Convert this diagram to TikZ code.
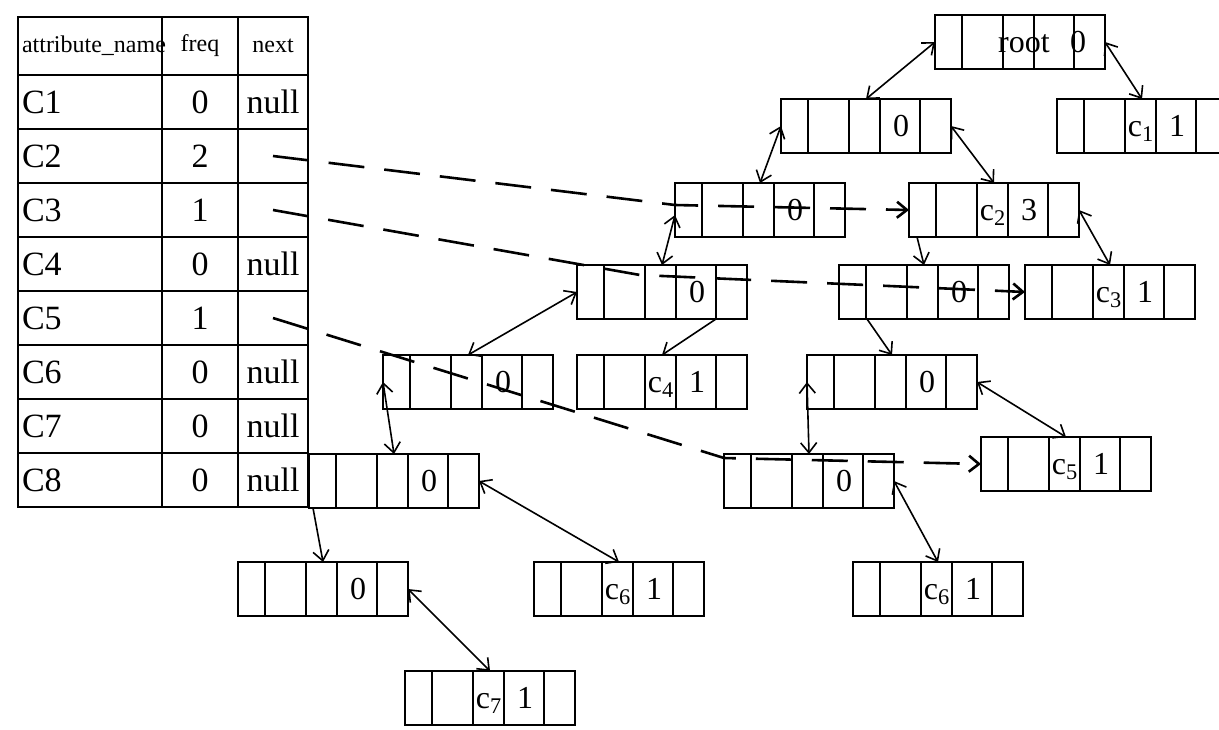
\documentclass[tikz,border=0pt]{standalone}
\usepackage{fontspec}
\setmainfont{Liberation Serif}
\usetikzlibrary{arrows.meta,calc}

% one record: name, left x, top y, third cell, fourth cell
\newcommand{\record}[5]{%
  \node[recbox] (#1) at (#2+85,#3+27) {};
  \foreach \dx in {27,68,99,139}
    \draw[recline] ($(#1.north west)+(\dx,0)$) -- ($(#1.south west)+(\dx,0)$);
  \node[rectext] (#1-a) at ($(#1.west)+(84,10)$) {#4};
  \node[rectext] (#1-b) at ($(#1.west)+(120,10)$) {#5};
}

\begin{document}
\begin{tikzpicture}[x=0.5pt, y=-0.5pt,
    recbox/.style={draw, line width=1.1pt, minimum width=85pt, minimum height=27pt, inner sep=0pt, outer sep=0pt},
    recline/.style={line width=1.1pt},
    rectext/.style={inner sep=0pt, anchor=base, font=\fontsize{16}{18}\selectfont},
    tcell/.style={draw, line width=1.1pt, minimum height=27pt, inner sep=2pt, outer sep=0pt, font=\fontsize{17}{19}\selectfont},
    link/.style={line width=0.8pt, {Straight Barb[length=5pt,width=8pt]}-{Straight Barb[length=5pt,width=8pt]}},
    down/.style={line width=0.8pt, -{Straight Barb[length=5pt,width=8pt]}},
    chain/.style={line width=1.3pt, dash pattern=on 18pt off 10pt, -{Straight Barb[length=5pt,width=8pt]}}
  ]
  \clip (0,0) rectangle (1219,729);

  % header table
  \node[tcell, minimum height=29pt, text width=68pt, align=left, font=\fontsize{12}{14}\selectfont] (hname) at (90,46) {attribute\_name};
  \node[tcell, minimum height=29pt, minimum width=38pt, font=\fontsize{12}{14}\selectfont] (hfreq) at (200,46) {freq};
  \node[tcell, minimum height=29pt, minimum width=35pt, font=\fontsize{12}{14}\selectfont] (hnext) at (273,46) {next};
  \foreach \cname/\fr/\nx [count=\i] in {C1/0/null, C2/2/{}, C3/1/{}, C4/0/null, C5/1/{}, C6/0/null, C7/0/null, C8/0/null} {
    \node[tcell, text width=68pt, align=left] (nm\i) at (90,48+54*\i) {\cname};
    \node[tcell, minimum width=38pt] (fq\i) at (200,48+54*\i) {\fr};
    \node[tcell, minimum width=35pt] (nx\i) at (273,48+54*\i) {\nx};
  }

  % tree records
  \record{root}{935}{15}{}{}
  \node[rectext] (root-t) at ($(root.west)+(89,10)$) {root};
  \node[rectext] (root-n) at ($(root.west)+(143,10)$) {0};
  \record{r0}{781}{99}{}{0}
  \record{c1}{1057}{99}{c\textsubscript{1}}{1}
  \record{r00}{675}{183}{}{0}
  \record{c2}{909}{183}{c\textsubscript{2}}{3}
  \record{r000}{577}{265}{}{0}
  \record{r01}{839}{265}{}{0}
  \record{c3}{1025}{265}{c\textsubscript{3}}{1}
  \record{r0000}{383}{355}{}{0}
  \record{c4}{577}{355}{c\textsubscript{4}}{1}
  \record{r010}{807}{355}{}{0}
  \record{r00000}{309}{454}{}{0}
  \record{r0100}{724}{454}{}{0}
  \record{c5}{981}{437}{c\textsubscript{5}}{1}
  \record{r000000}{238}{562}{}{0}
  \record{c6}{534}{562}{c\textsubscript{6}}{1}
  \record{c6b}{853}{562}{c\textsubscript{6}}{1}
  \record{c7}{405}{671}{c\textsubscript{7}}{1}

  % parent and child links
  \draw[link] (root.west) -- (r0.north);
  \draw[link] (root.east) -- (c1.north);
  \draw[link] (r0.west) -- (r00.north);
  \draw[link] (r0.east) -- (c2.north);
  \draw[link] ($(r00.west)+(0,5)$) -- (r000.north);
  \draw[down] ($(c2.south west)+(8,0)$) -- (r01.north);
  \draw[link] (c2.east) -- (c3.north);
  \draw[down] ($(r000.south east)+(-31,0)$) -- (c4.north);
  \draw[link] (r000.west) -- (r0000.north);
  \draw[down] ($(r01.south west)+(28,0)$) -- (r010.north);
  \draw[link] (r010.east) -- (c5.north);
  \draw[link] (r010.west) -- (r0100.north);
  \draw[link] (r0100.east) -- (c6b.north);
  \draw[link] (r0000.west) -- (r00000.north);
  \draw[down] ($(r00000.south west)+(4,0)$) -- (r000000.north);
  \draw[link] (r00000.east) -- (c6.north);
  \draw[link] (r000000.east) -- (c7.north);

  % next chains
  \draw[chain] (nx2.center) -- ($(r00.west)+(0,-5)$) -- (c2.west);
  \draw[chain] (nx3.center) -- ($(r000.north west)+(63,10)$) -- (c3.west);
  \draw[chain] (nx5.center) -- ($(r0100.north west)+(0,4)$) -- (c5.west);
\end{tikzpicture}
\end{document}
